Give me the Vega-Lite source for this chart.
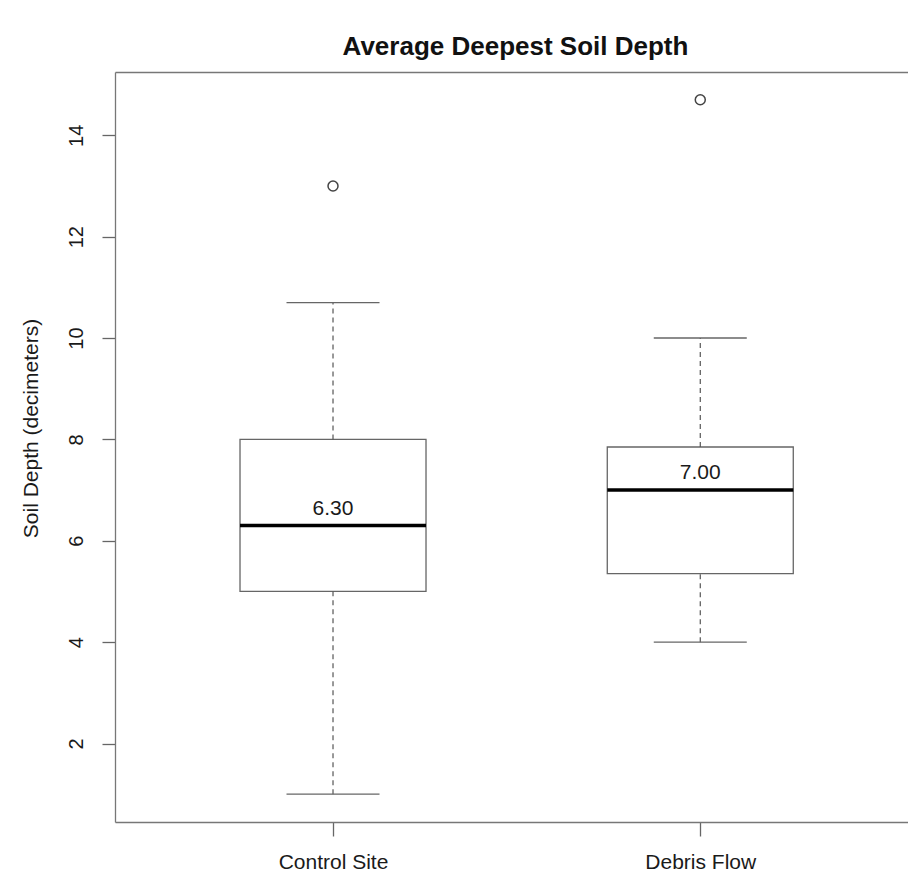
{
  "$schema": "https://vega.github.io/schema/vega-lite/v6.json",
  "width": 793,
  "height": 750,
  "autosize": {"type": "none"},
  "padding": {"left": 115, "top": 72, "right": 0, "bottom": 52},
  "background": "white",
  "config": {"view": {"stroke": null}, "font": "Liberation Sans"},
  "title": {
    "text": "Average Deepest Soil Depth",
    "fontSize": 26,
    "fontWeight": "bold",
    "color": "#111",
    "anchor": "middle",
    "frame": "group",
    "baseline": "alphabetic",
    "offset": 0,
    "dy": 9,
    "dx": 4
  },
  "data": {
    "values": [
      {"group": "Control Site", "pos": 1, "lo": 1.0, "q1": 5.0, "median": 6.3, "q3": 8.0, "hi": 10.7, "outlier": 13.0},
      {"group": "Debris Flow", "pos": 2, "lo": 4.0, "q1": 5.35, "median": 7.0, "q3": 7.85, "hi": 10.0, "outlier": 14.7}
    ]
  },
  "encoding": {
    "x": {"field": "pos", "type": "quantitative", "scale": {"domain": [0.42, 2.552], "nice": false, "zero": false}, "axis": null}
  },
  "resolve": {"axis": {"x": "independent"}},
  "layer": [
    {
      "mark": {"type": "bar", "size": 186, "fill": "white", "stroke": "#666", "strokeWidth": 1.3, "opacity": 1},
      "encoding": {
        "x": {
          "field": "pos", "type": "quantitative",
          "scale": {"domain": [0.42, 2.552], "nice": false, "zero": false},
          "axis": {
            "title": null, "values": [1, 2], "grid": false,
            "labelExpr": "datum.value == 1 ? 'Control Site' : 'Debris Flow'",
            "domainColor": "#777", "domainWidth": 1.3, "tickColor": "#666", "tickWidth": 1.3, "tickSize": 14,
            "labelFontSize": 21, "labelColor": "#1a1a1a", "labelPadding": 15, "labelFlush": false
          }
        },
        "y": {
          "field": "q1", "type": "quantitative",
          "scale": {"domain": [0.452, 15.248], "nice": false, "zero": false},
          "axis": {
            "title": "Soil Depth (decimeters)", "values": [2, 4, 6, 8, 10, 12, 14], "grid": false,
            "domainColor": "#777", "domainWidth": 1.3, "tickColor": "#666", "tickWidth": 1.3, "tickSize": 13,
            "labelAngle": -90, "labelAlign": "center", "labelBaseline": "bottom", "labelPadding": 16,
            "labelFontSize": 20, "labelColor": "#1a1a1a", "labelFlush": false,
            "titleFontSize": 21, "titleFontWeight": "normal", "titleColor": "#1a1a1a",
            "titleAngle": -90, "titleAlign": "center", "titleBaseline": "middle", "titleX": -84, "titleY": 356
          }
        },
        "y2": {"field": "q3"}
      }
    },
    {
      "mark": {"type": "rule", "strokeDash": [5, 4], "color": "#555", "strokeWidth": 1.2},
      "encoding": {"y": {"field": "q3", "type": "quantitative"}, "y2": {"field": "hi"}}
    },
    {
      "mark": {"type": "rule", "strokeDash": [5, 4], "color": "#555", "strokeWidth": 1.2},
      "encoding": {"y": {"field": "lo", "type": "quantitative"}, "y2": {"field": "q1"}}
    },
    {
      "mark": {"type": "tick", "orient": "horizontal", "size": 93, "thickness": 1.3, "color": "#666", "opacity": 1},
      "encoding": {"y": {"field": "hi", "type": "quantitative"}}
    },
    {
      "mark": {"type": "tick", "orient": "horizontal", "size": 93, "thickness": 1.3, "color": "#666", "opacity": 1},
      "encoding": {"y": {"field": "lo", "type": "quantitative"}}
    },
    {
      "mark": {"type": "tick", "orient": "horizontal", "size": 186, "thickness": 3.5, "color": "#000", "opacity": 1},
      "encoding": {"y": {"field": "median", "type": "quantitative"}}
    },
    {
      "mark": {"type": "text", "dy": -11, "fontSize": 21, "color": "#1a1a1a", "baseline": "alphabetic", "align": "center"},
      "encoding": {
        "y": {"field": "median", "type": "quantitative"},
        "text": {"field": "median", "type": "quantitative", "format": ".2f"}
      }
    },
    {
      "mark": {"type": "point", "shape": "circle", "filled": false, "size": 100, "stroke": "#444", "strokeWidth": 1.5, "opacity": 1},
      "encoding": {
        "x": {
          "field": "pos", "type": "quantitative",
          "scale": {"domain": [0.42, 2.552], "nice": false, "zero": false},
          "axis": {"orient": "top", "title": null, "ticks": false, "labels": false, "grid": false, "domainColor": "#777", "domainWidth": 1.3}
        },
        "y": {"field": "outlier", "type": "quantitative"}
      }
    }
  ]
}
